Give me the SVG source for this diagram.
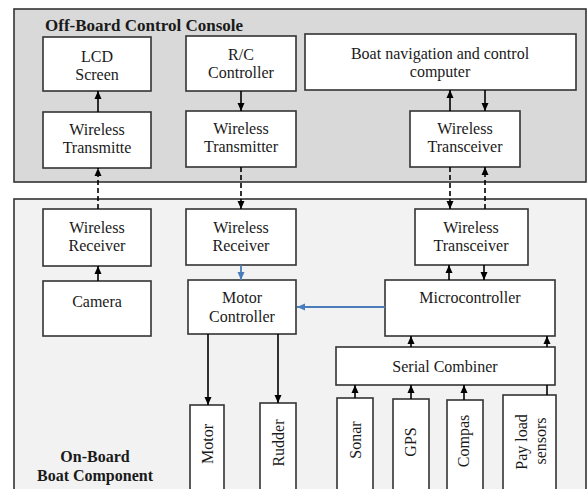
<svg xmlns="http://www.w3.org/2000/svg" width="588" height="489" viewBox="0 0 588 489">
<defs>
<marker id="ah" markerUnits="userSpaceOnUse" markerWidth="8" markerHeight="8" viewBox="0 0 8 8" refX="8" refY="4" orient="auto"><path d="M0,0.5 L8,4 L0,7.5 Z" fill="#000"/></marker>
<marker id="ahb" markerUnits="userSpaceOnUse" markerWidth="8" markerHeight="8" viewBox="0 0 8 8" refX="8" refY="4" orient="auto"><path d="M0,0.5 L8,4 L0,7.5 Z" fill="#4a7ebb"/></marker>
<style>
.box{fill:#fff;stroke:#333;stroke-width:1.6}
.t{font-family:'Liberation Serif','DejaVu Serif',serif;font-size:16px;fill:#1a1a1a;text-anchor:middle}
.h{font-family:'Liberation Serif','DejaVu Serif',serif;font-size:16px;font-weight:bold;fill:#1a1a1a}
.a{stroke:#000;stroke-width:1.6;fill:none;marker-end:url(#ah)}
.d{stroke:#000;stroke-width:1.6;fill:none;stroke-dasharray:5,3;marker-end:url(#ah)}
.b{stroke:#4a7ebb;stroke-width:1.8;fill:none;marker-end:url(#ahb)}
</style>
</defs>
<g id="offboard"><rect x="14" y="9" width="572" height="173" fill="#d9d9d9" stroke="#333" stroke-width="1.6"/><text class="h" x="45" y="31" style="font-size:17px">Off-Board Control Console</text></g>
<g id="onboard"><rect x="14" y="199" width="572" height="300" fill="#f2f2f2" stroke="#333" stroke-width="1.6"/><text class="h" x="95" y="462" text-anchor="middle">On-Board</text><text class="h" x="95" y="481" text-anchor="middle">Boat Component</text></g>
<g id="lcd"><rect class="box" x="43" y="37" width="108" height="54"/><text class="t" x="97" y="62">LCD</text><text class="t" x="97" y="80">Screen</text></g>
<g id="rc"><rect class="box" x="186" y="36" width="110" height="55"/><text class="t" x="241" y="60">R/C</text><text class="t" x="241" y="78">Controller</text></g>
<g id="nav"><rect class="box" x="305" y="34" width="271" height="56"/><text class="t" x="440" y="59">Boat navigation and control</text><text class="t" x="440" y="77">computer</text></g>
<g id="wt1"><rect class="box" x="43" y="112" width="108" height="56"/><text class="t" x="97" y="135">Wireless</text><text class="t" x="97" y="153">Transmitte</text></g>
<g id="wt2"><rect class="box" x="186" y="111" width="110" height="56"/><text class="t" x="241" y="134">Wireless</text><text class="t" x="241" y="152">Transmitter</text></g>
<g id="tr1"><rect class="box" x="410" y="111" width="110" height="56"/><text class="t" x="465" y="134">Wireless</text><text class="t" x="465" y="152">Transceiver</text></g>
<g id="wr1"><rect class="box" x="43" y="209" width="108" height="57"/><text class="t" x="97" y="233">Wireless</text><text class="t" x="97" y="251">Receiver</text></g>
<g id="cam"><rect class="box" x="43" y="281" width="108" height="55"/><text class="t" x="97" y="307">Camera</text></g>
<g id="wr2"><rect class="box" x="186" y="209" width="110" height="56"/><text class="t" x="241" y="233">Wireless</text><text class="t" x="241" y="251">Receiver</text></g>
<g id="mc"><rect class="box" x="188" y="280" width="108" height="54"/><text class="t" x="242" y="303">Motor</text><text class="t" x="242" y="322">Controller</text></g>
<g id="tr2"><rect class="box" x="415" y="209" width="113" height="56"/><text class="t" x="471" y="233">Wireless</text><text class="t" x="471" y="251">Transceiver</text></g>
<g id="micro"><rect class="box" x="385" y="280" width="170" height="56"/><text class="t" x="470" y="303">Microcontroller</text></g>
<g id="serial"><rect class="box" x="336" y="347" width="219" height="38"/><text class="t" x="445" y="372">Serial Combiner</text></g>
<g id="motor"><rect class="box" x="190" y="405" width="34" height="90"/><text class="t" transform="translate(213,444) rotate(-90)">Motor</text></g>
<g id="rudder"><rect class="box" x="260" y="403" width="36" height="92"/><text class="t" transform="translate(284,443) rotate(-90)">Rudder</text></g>
<g id="sonar"><rect class="box" x="337" y="398" width="36" height="97"/><text class="t" transform="translate(361,440) rotate(-90)">Sonar</text></g>
<g id="gps"><rect class="box" x="393" y="399" width="36" height="96"/><text class="t" transform="translate(416,442) rotate(-90)">GPS</text></g>
<g id="compas"><rect class="box" x="447" y="400" width="36" height="95"/><text class="t" transform="translate(469,441) rotate(-90)">Compas</text></g>
<g id="payload"><rect class="box" x="503" y="395" width="53" height="100"/><text class="t" transform="translate(527,442) rotate(-90)">Pay load</text><text class="t" transform="translate(546,441) rotate(-90)">sensors</text></g>
<g id="connectors">
<line class="a" x1="98" y1="112" x2="98" y2="91"/>
<line class="a" x1="241" y1="91" x2="241" y2="111"/>
<line class="a" x1="450" y1="111" x2="450" y2="90"/>
<line class="a" x1="485" y1="90" x2="485" y2="111"/>
<line class="d" x1="98" y1="209" x2="98" y2="168"/>
<line class="d" x1="241" y1="167" x2="241" y2="209"/>
<line class="d" x1="450" y1="167" x2="450" y2="209"/>
<line class="d" x1="485" y1="209" x2="485" y2="167"/>
<line class="a" x1="98" y1="281" x2="98" y2="266"/>
<line class="b" x1="241" y1="265" x2="241" y2="280"/>
<line class="a" x1="449" y1="280" x2="449" y2="265"/>
<line class="a" x1="484" y1="265" x2="484" y2="280"/>
<line class="b" x1="385" y1="307" x2="297" y2="307"/>
<line class="a" x1="208" y1="334" x2="208" y2="405"/>
<line class="a" x1="278" y1="334" x2="278" y2="403"/>
<line class="a" x1="411" y1="347" x2="411" y2="336"/>
<line class="a" x1="547" y1="347" x2="547" y2="336"/>
<line class="a" x1="355" y1="398" x2="355" y2="385"/>
<line class="a" x1="411" y1="399" x2="411" y2="385"/>
<line class="a" x1="464" y1="400" x2="464" y2="385"/>
<line x1="547" y1="395" x2="547" y2="385" stroke="#000" stroke-width="1.6"/>
</g>
</svg>
